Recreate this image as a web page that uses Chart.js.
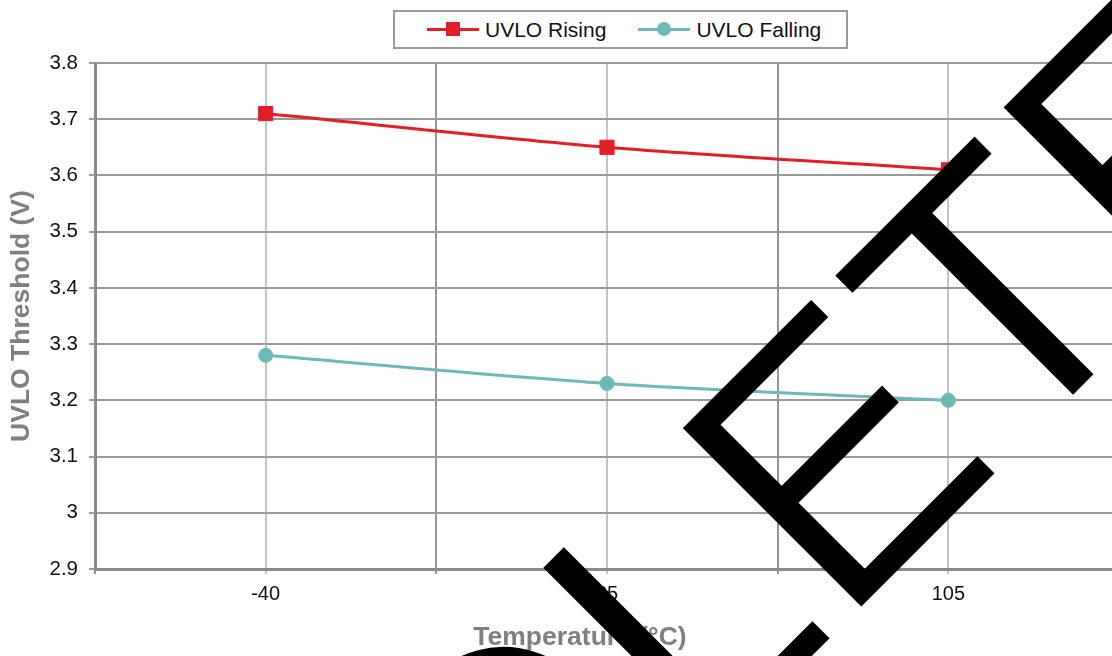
<!DOCTYPE html>
<html>
<head>
<meta charset="utf-8">
<script src="https://cdn.jsdelivr.net/npm/chart.js@4.4.1/dist/chart.umd.min.js"></script>
<style>
  html, body { margin: 0; padding: 0; background: #fff; overflow: hidden; }
  #wrap { position: relative; width: 1130px; height: 656px; }
  #legend {
    position: absolute; left: 393px; top: 10px; width: 455px; height: 39px;
    border: 2px solid #9a9a9a; background: #fff; box-sizing: border-box;
    display: flex; align-items: center; padding-left: 32px; white-space: nowrap;
    font: 21px 'Liberation Sans', Arial, sans-serif; color: #111;
  }
  .item { display: flex; align-items: center; margin-right: 32px; flex-shrink: 0; }
  .sample { position: relative; width: 52px; height: 3px; margin-right: 6px; flex-shrink: 0; }
  .mark { position: absolute; left: 19px; top: -6px; width: 14px; height: 14px; }
</style>
</head>
<body>
<div id="wrap">
  <canvas id="chart" width="1130" height="656"></canvas>
  <div id="legend"></div>
</div>
<script>
const temps = ['-40', '25', '105']
const risingV = [3.71, 3.65, 3.61]
const fallingV = [3.28, 3.23, 3.20]
const seriesNames = ['UVLO Rising', 'UVLO Falling']
const seriesColors = ['#e41e26', '#6cb9b7']
const seriesShapes = ['rect', 'circle']
const yMin = 2.9
const yMax = 3.8
const yStep = 0.1
const xTitle = 'Temperature (°C)'
const yTitle = 'UVLO Threshold (V)'
const stampText = 'OBSOLETE'

const FONT = "'Liberation Sans', Arial, sans-serif"

const toPoints = vals => vals.map((v, i) => ({ x: i, y: v }))

// legend drawn as html so it can show line + marker like the original
const legend = document.getElementById('legend')
seriesNames.forEach((name, i) => {
  const item = document.createElement('div')
  item.className = 'item'
  const sample = document.createElement('span')
  sample.className = 'sample'
  sample.style.background = seriesColors[i]
  const mark = document.createElement('span')
  mark.className = 'mark'
  mark.style.background = seriesColors[i]
  if (seriesShapes[i] === 'circle') mark.style.borderRadius = '50%'
  sample.appendChild(mark)
  const txt = document.createElement('span')
  txt.textContent = name
  item.appendChild(sample)
  item.appendChild(txt)
  legend.appendChild(item)
})

// x title sits a little left of the plot centre in the original
const xTitlePlugin = {
  id: 'xTitle',
  afterDraw(chart) {
    const ctx = chart.ctx
    ctx.save()
    ctx.font = `bold 26.5px ${FONT}`
    ctx.fillStyle = '#7f7f7f'
    ctx.textAlign = 'center'
    ctx.textBaseline = 'middle'
    ctx.fillText(xTitle, 580, 638)
    ctx.restore()
  }
}

// diagonal stamp over the whole chart; thinned a little with destination-out
const stampPlugin = {
  id: 'stamp',
  afterDraw(chart) {
    const { ctx, canvas } = chart
    const r = chart.currentDevicePixelRatio || 1
    const off = document.createElement('canvas')
    off.width = canvas.width
    off.height = canvas.height
    const o = off.getContext('2d')
    const k = 1.05 // taller caps than Liberation Sans
    o.scale(r, r)
    o.rotate(-Math.PI / 4)
    o.scale(1, k)
    o.font = `355px ${FONT}`
    const x0 = 149 - o.measureText(stampText.slice(0, 5)).width
    const y0 = 1040 / k
    o.fillStyle = '#000'
    o.fillText(stampText, x0, y0)
    o.globalCompositeOperation = 'destination-out'
    o.lineWidth = 4
    o.strokeText(stampText, x0, y0)
    ctx.save()
    ctx.setTransform(1, 0, 0, 1, 0, 0)
    ctx.drawImage(off, 0, 0)
    ctx.restore()
  }
}

new Chart(document.getElementById('chart'), {
  type: 'line',
  data: {
    datasets: [risingV, fallingV].map((vals, i) => ({
      label: seriesNames[i],
      data: toPoints(vals),
      borderColor: seriesColors[i],
      backgroundColor: seriesColors[i],
      borderWidth: 3,
      pointStyle: seriesShapes[i],
      pointRadius: seriesShapes[i] === 'rect' ? 10 : 7,
      pointBorderWidth: 1,
      tension: 0.3
    }))
  },
  options: {
    responsive: false,
    animation: false,
    layout: { padding: { top: 63, right: 10, left: 0, bottom: 0 } },
    plugins: {
      legend: { display: false },
      tooltip: { enabled: false }
    },
    scales: {
      x: {
        type: 'linear',
        min: -0.5,
        max: temps.length - 0.5,
        afterBuildTicks: scale => {
          const t = []
          for (let v = -0.5; v <= temps.length - 0.5 + 1e-9; v += 0.5) t.push({ value: v })
          scale.ticks = t
        },
        afterFit: scale => { scale.height = 87 },
        ticks: {
          autoSkip: false,
          maxRotation: 0,
          padding: 8,
          color: '#111',
          font: { family: FONT, size: 20 },
          callback: v => Number.isInteger(v) ? temps[v] : ''
        },
        grid: {
          color: c => Number.isInteger(c.tick && c.tick.value) ? '#c4c4c4' : '#969696',
          lineWidth: 2,
          tickLength: 5
        },
        border: { color: '#8a8a8a', width: 3 }
      },
      y: {
        min: yMin,
        max: yMax,
        afterFit: scale => { scale.width = 95 },
        ticks: {
          stepSize: yStep,
          padding: 11,
          color: '#111',
          font: { family: FONT, size: 20.5 },
          callback: v => String(parseFloat(v.toFixed(1)))
        },
        grid: { color: '#9a9a9a', lineWidth: 2, tickLength: 6 },
        border: { color: '#8a8a8a', width: 3 },
        title: {
          display: true,
          text: yTitle,
          color: '#7f7f7f',
          font: { family: FONT, size: 26.5, weight: 'bold' },
          padding: { top: 6, bottom: 0 }
        }
      }
    }
  },
  plugins: [xTitlePlugin, stampPlugin]
})
</script>
</body>
</html>
